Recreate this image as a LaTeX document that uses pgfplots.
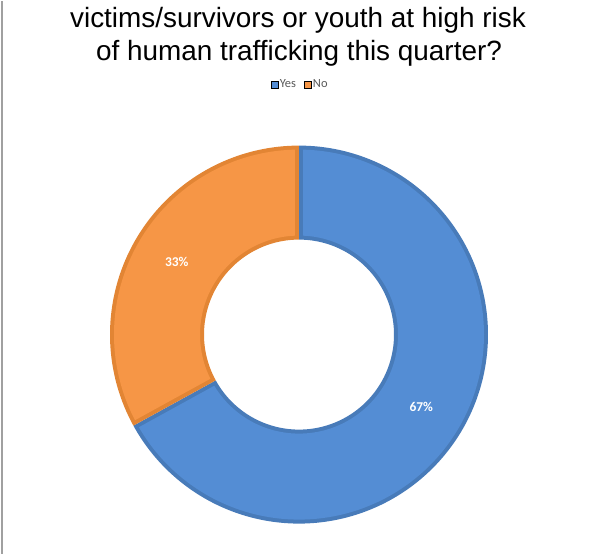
\documentclass[border=0pt]{standalone}
\usepackage{pgfplots}
\pgfplotsset{compat=1.18}
\usepgfplotslibrary{fillbetween}
\usepackage{pgfplotstable}
\usepackage{fontspec}
\setmainfont{Liberation Sans}
\newfontfamily\calibri{Carlito}

\definecolor{yesfill}{RGB}{84,141,212}
\definecolor{yesedge}{RGB}{72,123,185}
\definecolor{nofill}{RGB}{246,150,70}
\definecolor{noedge}{RGB}{226,133,52}
\definecolor{legtext}{RGB}{89,89,89}

\pgfplotstableread{
label value
Yes 67
No 33
}\datatable

\pgfplotstablegetelem{0}{value}\of\datatable \let\valyes\pgfplotsretval
\pgfplotstablegetelem{1}{value}\of\datatable \let\valno\pgfplotsretval

\pgfmathsetmacro{\angyes}{\valyes/(\valyes+\valno)*360}
\pgfmathsetmacro{\midyes}{\angyes/2}
\pgfmathsetmacro{\midno}{(\angyes+360)/2}
\pgfmathsetmacro{\yesLx}{299+142*sin(\midyes)}
\pgfmathsetmacro{\yesLy}{219+142*cos(\midyes)}
\pgfmathsetmacro{\noLx}{299+142*sin(\midno)}
\pgfmathsetmacro{\noLy}{219+142*cos(\midno)}

% ring slice: #1 start angle, #2 end angle, #3 fill, #4 edge, #5 name
\newcommand{\ringslice}[5]{%
  \pgfmathsetmacro{\oA}{#1+1.24}\pgfmathsetmacro{\oB}{#2-1.24}%
  \pgfmathsetmacro{\iA}{#1+2.32}\pgfmathsetmacro{\iB}{#2-2.32}%
  \addplot[name path=#5o, draw=none, forget plot, domain=#1:#2, samples=200, variable=\t]
    ({299+189*sin(\t)},{219+189*cos(\t)});
  \addplot[name path=#5i, draw=none, forget plot, domain=#1:#2, samples=200, variable=\t]
    ({299+95*sin(\t)},{219+95*cos(\t)});
  \addplot[fill=#4, draw=none, forget plot] fill between[of=#5o and #5i];
  \addplot[name path=#5oo, draw=none, forget plot, domain=\oA:\oB, samples=200, variable=\t]
    ({299+185*sin(\t)},{219+185*cos(\t)});
  \addplot[name path=#5ii, draw=none, forget plot, domain=\iA:\iB, samples=200, variable=\t]
    ({299+99*sin(\t)},{219+99*cos(\t)});
  \addplot[fill=#3, draw=none, forget plot] fill between[of=#5oo and #5ii];
}

\begin{document}
\begin{tikzpicture}
\begin{axis}[
  width=604bp, height=553bp, scale only axis,
  xmin=0, xmax=604, ymin=0, ymax=553,
  hide axis, clip=false,
  legend columns=2,
  legend style={draw=none, fill=none, at={(0.497,0.848)}, anchor=center,
    font=\calibri\fontsize{12.5}{14}\selectfont, text=legtext,
    /tikz/every even column/.append style={column sep=6bp},
    inner sep=0pt},
  legend cell align=left,
]
\path (axis cs:0,0) rectangle (axis cs:604,553);
\ringslice{0}{\angyes}{yesfill}{yesedge}{yes}
\ringslice{\angyes}{360}{nofill}{noedge}{no}

\addlegendimage{only marks, mark=square*, mark options={fill=yesfill, draw=none}, mark size=3.5bp}
\addlegendentry{Yes}
\addlegendimage{only marks, mark=square*, mark options={fill=nofill, draw=none}, mark size=3.5bp}
\addlegendentry{No}

\node[text=white, font=\calibri\bfseries\fontsize{13.5}{15}\selectfont] at (axis cs:\yesLx,\yesLy) {67\%};
\node[text=white, font=\calibri\bfseries\fontsize{13.5}{15}\selectfont] at (axis cs:\noLx,\noLy) {33\%};

\node[anchor=base, font=\fontsize{28}{32}\selectfont, inner sep=0pt] at (axis cs:298,526) {victims/survivors or youth at high risk};
\node[anchor=base, font=\fontsize{28}{32}\selectfont, inner sep=0pt] at (axis cs:299,493) {of human trafficking this quarter?};

\draw[color={rgb,255:red,160;green,160;blue,160}, line width=1.2bp] (axis cs:2,0) -- (axis cs:2,553);
\end{axis}
\end{tikzpicture}
\end{document}
